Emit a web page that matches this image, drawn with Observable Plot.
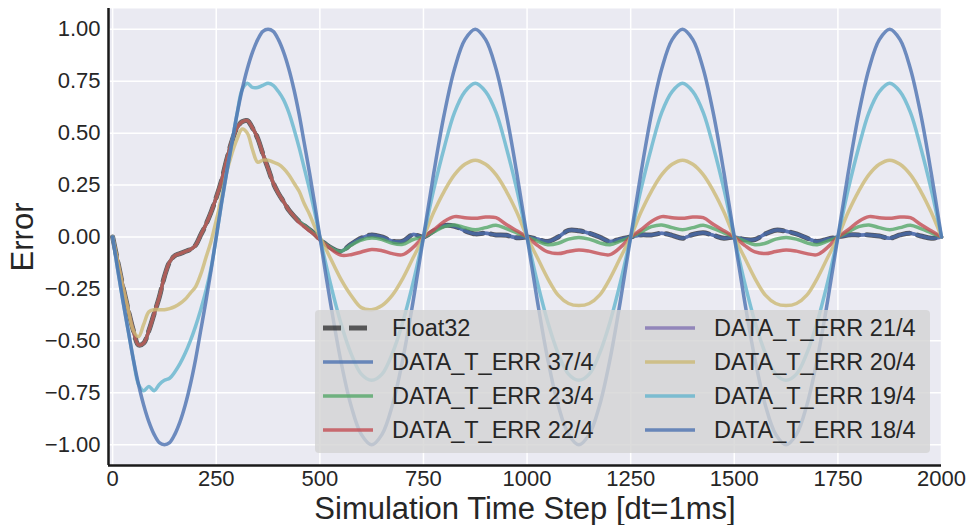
<!DOCTYPE html>
<html><head><meta charset="utf-8">
<script src="https://cdn.jsdelivr.net/npm/d3@7"></script>
<script src="https://cdn.jsdelivr.net/npm/@observablehq/plot@0.6"></script>
<style>
body{margin:0;background:#fff;}
#chart{position:relative;width:972px;height:525px;}
</style></head><body><div id="chart"></div>
<script>
// Simulation time steps (sampling grid)
const steps = [0,12.5,25,37.5,50,62.5,75,87.5,100,112.5,
125,137.5,150,162.5,175,187.5,200,212.5,225,237.5,
250,262.5,275,287.5,300,312.5,325,337.5,350,362.5,
375,387.5,400,412.5,425,437.5,450,462.5,475,487.5,
500,
525,550,575,600,625,650,675,700,725,750,
775,800,825,850,875,900,925,950,975,1000,
1025,1050,1075,1100,1125,1150,1175,1200,1225,1250,
1275,1300,1325,1350,1375,1400,1425,1450,1475,1500,
1525,1550,1575,1600,1625,1650,1675,1700,1725,1750,
1775,1800,1825,1850,1875,1900,1925,1950,1975,2000];

const float32 = [0,-0.12,-0.24,-0.35,-0.45,-0.52,-0.51,-0.45,-0.37,-0.29,
-0.19,-0.12,-0.09,-0.08,-0.07,-0.06,-0.04,0.01,0.06,0.12,
0.19,0.27,0.37,0.46,0.525,0.555,0.56,0.525,0.475,0.40,
0.33,0.26,0.21,0.17,0.13,0.10,0.075,0.055,0.035,0.015,
-0.01,
-0.05,-0.07,-0.035,-0.005,0.01,0.0,-0.02,-0.02,0.012,0,
0.03,0.055,0.052,0.03,0.015,0.018,0.01,0.008,-0.004,0,
-0.01,-0.022,0.0,0.032,0.03,0.018,0.0,-0.022,-0.01,0,
0.01,0.01,0.018,0.008,-0.006,0.012,0.02,0.008,-0.006,0,
-0.012,-0.012,0.015,0.033,0.028,0.015,-0.005,-0.022,-0.01,0,
0.01,0.01,0.01,0.005,-0.006,0.01,0.018,0.005,-0.006,0];

const err37 = [0,-0.12,-0.24,-0.35,-0.45,-0.52,-0.51,-0.45,-0.37,-0.29,
-0.19,-0.12,-0.09,-0.08,-0.07,-0.06,-0.04,0.01,0.06,0.12,
0.19,0.27,0.37,0.46,0.525,0.555,0.56,0.525,0.475,0.40,
0.33,0.26,0.21,0.17,0.13,0.10,0.075,0.055,0.035,0.015,
-0.01,
-0.05,-0.07,-0.035,-0.005,0.01,0.0,-0.02,-0.02,0.012,0,
0.03,0.055,0.052,0.03,0.015,0.018,0.01,0.008,-0.004,0,
-0.01,-0.022,0.0,0.032,0.03,0.018,0.0,-0.022,-0.01,0,
0.01,0.01,0.018,0.008,-0.006,0.012,0.02,0.008,-0.006,0,
-0.012,-0.012,0.015,0.033,0.028,0.015,-0.005,-0.022,-0.01,0,
0.01,0.01,0.01,0.005,-0.006,0.01,0.018,0.005,-0.006,0];

const err23 = [0,-0.12,-0.24,-0.35,-0.45,-0.52,-0.51,-0.45,-0.37,-0.29,
-0.19,-0.12,-0.09,-0.08,-0.07,-0.06,-0.04,0.01,0.06,0.12,
0.19,0.27,0.37,0.46,0.525,0.555,0.56,0.525,0.475,0.40,
0.33,0.26,0.21,0.17,0.13,0.10,0.075,0.055,0.035,0.015,
-0.01,
-0.05,-0.07,-0.04,-0.015,-0.005,-0.012,-0.03,-0.035,-0.012,0,
0.025,0.05,0.058,0.045,0.035,0.045,0.057,0.04,0.02,0,
-0.02,-0.037,-0.03,-0.01,-0.002,-0.01,-0.028,-0.037,-0.02,0,
0.025,0.05,0.058,0.045,0.035,0.045,0.057,0.04,0.02,0,
-0.02,-0.037,-0.03,-0.01,-0.002,-0.01,-0.028,-0.037,-0.02,0,
0.025,0.05,0.058,0.045,0.035,0.045,0.057,0.04,0.02,0];

const err22 = [0,-0.12,-0.24,-0.35,-0.45,-0.52,-0.51,-0.45,-0.37,-0.29,
-0.19,-0.12,-0.09,-0.08,-0.07,-0.06,-0.04,0.01,0.06,0.12,
0.19,0.27,0.37,0.46,0.525,0.555,0.56,0.525,0.475,0.40,
0.33,0.26,0.21,0.17,0.13,0.10,0.07,0.05,0.03,0.01,
-0.014,
-0.055,-0.087,-0.085,-0.072,-0.06,-0.066,-0.08,-0.085,-0.05,0,
0.035,0.075,0.098,0.093,0.09,0.096,0.093,0.06,0.03,0,
-0.04,-0.072,-0.08,-0.07,-0.062,-0.068,-0.08,-0.085,-0.05,0,
0.035,0.075,0.098,0.093,0.09,0.096,0.093,0.06,0.03,0,
-0.04,-0.072,-0.08,-0.07,-0.062,-0.068,-0.08,-0.085,-0.05,0,
0.035,0.075,0.098,0.093,0.09,0.096,0.093,0.06,0.03,0];

const err21 = [0,-0.12,-0.24,-0.35,-0.45,-0.52,-0.51,-0.45,-0.37,-0.29,
-0.19,-0.12,-0.09,-0.08,-0.07,-0.06,-0.04,0.01,0.06,0.12,
0.19,0.27,0.37,0.46,0.525,0.555,0.56,0.525,0.475,0.40,
0.33,0.26,0.21,0.17,0.13,0.10,0.075,0.055,0.035,0.015,
-0.01,
-0.05,-0.07,-0.035,-0.005,0.01,0.0,-0.02,-0.02,0.012,0,
0.03,0.055,0.052,0.03,0.015,0.018,0.01,0.008,-0.004,0,
-0.01,-0.022,0.0,0.032,0.03,0.018,0.0,-0.022,-0.01,0,
0.01,0.01,0.018,0.008,-0.006,0.012,0.02,0.008,-0.006,0,
-0.012,-0.012,0.015,0.033,0.028,0.015,-0.005,-0.022,-0.01,0,
0.01,0.01,0.01,0.005,-0.006,0.01,0.018,0.005,-0.006,0];

const err20 = [0,-0.12,-0.24,-0.35,-0.45,-0.48,-0.42,-0.36,-0.35,-0.35,
-0.35,-0.345,-0.335,-0.32,-0.30,-0.27,-0.24,-0.18,-0.10,-0.02,
0.08,0.19,0.31,0.40,0.47,0.52,0.50,0.42,0.36,0.37,
0.37,0.36,0.35,0.33,0.30,0.26,0.22,0.16,0.11,0.05,
0,
-0.10,-0.20,-0.28,-0.34,-0.35,-0.33,-0.28,-0.20,-0.10,0,
0.12,0.22,0.30,0.35,0.37,0.35,0.30,0.22,0.12,0,
-0.10,-0.20,-0.28,-0.32,-0.33,-0.32,-0.28,-0.20,-0.10,0,
0.12,0.22,0.30,0.35,0.37,0.35,0.30,0.22,0.12,0,
-0.10,-0.20,-0.28,-0.32,-0.33,-0.32,-0.28,-0.20,-0.10,0,
0.12,0.22,0.30,0.35,0.37,0.35,0.30,0.22,0.12,0];

const err19 = [0,-0.16,-0.31,-0.45,-0.59,-0.71,-0.74,-0.72,-0.74,-0.71,
-0.69,-0.68,-0.65,-0.61,-0.56,-0.50,-0.43,-0.35,-0.26,-0.15,
0,0.16,0.31,0.45,0.59,0.71,0.74,0.72,0.72,0.73,
0.74,0.73,0.70,0.66,0.60,0.52,0.43,0.33,0.23,0.12,
0,
-0.22,-0.41,-0.56,-0.66,-0.69,-0.66,-0.56,-0.41,-0.22,0,
0.23,0.43,0.60,0.70,0.74,0.70,0.60,0.43,0.23,0,
-0.22,-0.41,-0.56,-0.66,-0.69,-0.66,-0.56,-0.41,-0.22,0,
0.23,0.43,0.60,0.70,0.74,0.70,0.60,0.43,0.23,0,
-0.22,-0.41,-0.56,-0.66,-0.69,-0.66,-0.56,-0.41,-0.22,0,
0.23,0.43,0.60,0.70,0.74,0.70,0.60,0.43,0.23,0];

const err18 = [0,-0.16,-0.31,-0.45,-0.59,-0.71,-0.81,-0.89,-0.95,-0.99,
-1,-0.99,-0.95,-0.89,-0.81,-0.71,-0.59,-0.45,-0.31,-0.16,
0,0.16,0.31,0.45,0.59,0.71,0.81,0.89,0.95,0.99,
1,0.99,0.95,0.89,0.81,0.71,0.59,0.45,0.31,0.16,
0,
-0.31,-0.59,-0.81,-0.95,-1,-0.95,-0.81,-0.59,-0.31,0,
0.31,0.59,0.81,0.95,1,0.95,0.81,0.59,0.31,0,
-0.31,-0.59,-0.81,-0.95,-1,-0.95,-0.81,-0.59,-0.31,0,
0.31,0.59,0.81,0.95,1,0.95,0.81,0.59,0.31,0,
-0.31,-0.59,-0.81,-0.95,-1,-0.95,-0.81,-0.59,-0.31,0,
0.31,0.59,0.81,0.95,1,0.95,0.81,0.59,0.31,0];

const legendNames = ["Float32","DATA_T_ERR 37/4","DATA_T_ERR 23/4","DATA_T_ERR 22/4",
  "DATA_T_ERR 21/4","DATA_T_ERR 20/4","DATA_T_ERR 19/4","DATA_T_ERR 18/4"];
const xTicks = [0,250,500,750,1000,1250,1500,1750,2000];
const yTicks = [-1,-0.75,-0.5,-0.25,0,0.25,0.5,0.75,1];
const xDomain = [-10, 2000];
const yDomain = [-1.1, 1.1];

const styles = {
  "Float32": {values: float32, color: "#000000", width: 5, opacity: 0.6, dash: "18,8"},
  "DATA_T_ERR 37/4": {values: err37, color: "#4C72B0", width: 3.5, opacity: 0.8},
  "DATA_T_ERR 23/4": {values: err23, color: "#55A868", width: 3.5, opacity: 0.8},
  "DATA_T_ERR 22/4": {values: err22, color: "#C44E52", width: 3.5, opacity: 0.8},
  "DATA_T_ERR 21/4": {values: err21, color: "#8172B2", width: 3.5, opacity: 0.8},
  "DATA_T_ERR 20/4": {values: err20, color: "#CCB974", width: 3.5, opacity: 0.8},
  "DATA_T_ERR 19/4": {values: err19, color: "#64B5CD", width: 3.5, opacity: 0.8},
  "DATA_T_ERR 18/4": {values: err18, color: "#4C72B0", width: 3.5, opacity: 0.8}
};
const drawOrder = ["DATA_T_ERR 21/4","Float32","DATA_T_ERR 37/4","DATA_T_ERR 23/4","DATA_T_ERR 22/4",
  "DATA_T_ERR 20/4","DATA_T_ERR 19/4","DATA_T_ERR 18/4"];

const lineMarks = drawOrder.map(name => {
  const s = styles[name];
  const rows = steps.map((x, i) => ({x, y: s.values[i]}));
  return Plot.line(rows, {x: "x", y: "y", stroke: s.color, strokeWidth: s.width,
    strokeOpacity: s.opacity, strokeDasharray: s.dash, curve: "catmull-rom"});
});

const font = "'Liberation Sans', Arial, sans-serif";
const plot = Plot.plot({
  width: 972, height: 525,
  marginLeft: 108, marginRight: 31, marginTop: 8, marginBottom: 60,
  style: {fontFamily: font, color: "#262626", background: "transparent", overflow: "visible"},
  x: {domain: xDomain},
  y: {domain: yDomain},
  marks: [
    Plot.frame({fill: "#EAEAF2", stroke: "none"}),
    Plot.gridX(xTicks, {stroke: "white", strokeOpacity: 1, strokeWidth: 1.5}),
    Plot.gridY(yTicks, {stroke: "white", strokeOpacity: 1, strokeWidth: 1.5}),
    Plot.axisX(xTicks, {tickSize: 0, tickPadding: 5, fontSize: 22, label: null, tickFormat: d3.format("d")}),
    Plot.axisY(yTicks, {tickSize: 0, tickPadding: 8, fontSize: 22, label: null, tickFormat: d3.format(".2f")}),
    ...lineMarks,
    Plot.ruleX([xDomain[0]], {stroke: "#1a1a1a", strokeWidth: 2.5}),
    Plot.ruleY([yDomain[0]], {stroke: "#1a1a1a", strokeWidth: 2.5})
  ]
});
document.getElementById("chart").appendChild(plot);

const svg = d3.select(plot);
// axis titles
svg.append("text").attr("x", 525).attr("y", 519).attr("text-anchor", "middle")
  .attr("font-size", 31).attr("font-family", font).attr("fill", "#262626")
  .text("Simulation Time Step [dt=1ms]");
svg.append("text").attr("transform", "translate(33,237) rotate(-90)").attr("text-anchor", "middle")
  .attr("font-size", 31).attr("font-family", font).attr("fill", "#262626")
  .text("Error");

// legend (2 columns)
const lg = svg.append("g").attr("text-anchor", "start");
lg.append("rect").attr("x", 315).attr("y", 310).attr("width", 615).attr("height", 143)
  .attr("rx", 4).attr("fill", "#D3D3D3").attr("fill-opacity", 0.8);
const colX = [323, 645], rowY = [328, 362, 396, 430];
legendNames.forEach((name, i) => {
  const s = styles[name];
  const cx = colX[Math.floor(i / 4)], cy = rowY[i % 4];
  lg.append("line").attr("x1", cx).attr("x2", cx + 50).attr("y1", cy).attr("y2", cy)
    .attr("stroke", s.color).attr("stroke-width", s.width).attr("stroke-opacity", s.opacity)
    .attr("stroke-dasharray", s.dash || null);
  lg.append("text").attr("x", cx + 69).attr("y", cy).attr("dy", "0.36em")
    .attr("text-anchor", "start")
    .attr("font-size", 23.5).attr("font-family", font).attr("fill", "#262626").text(name);
});
</script></body></html>
